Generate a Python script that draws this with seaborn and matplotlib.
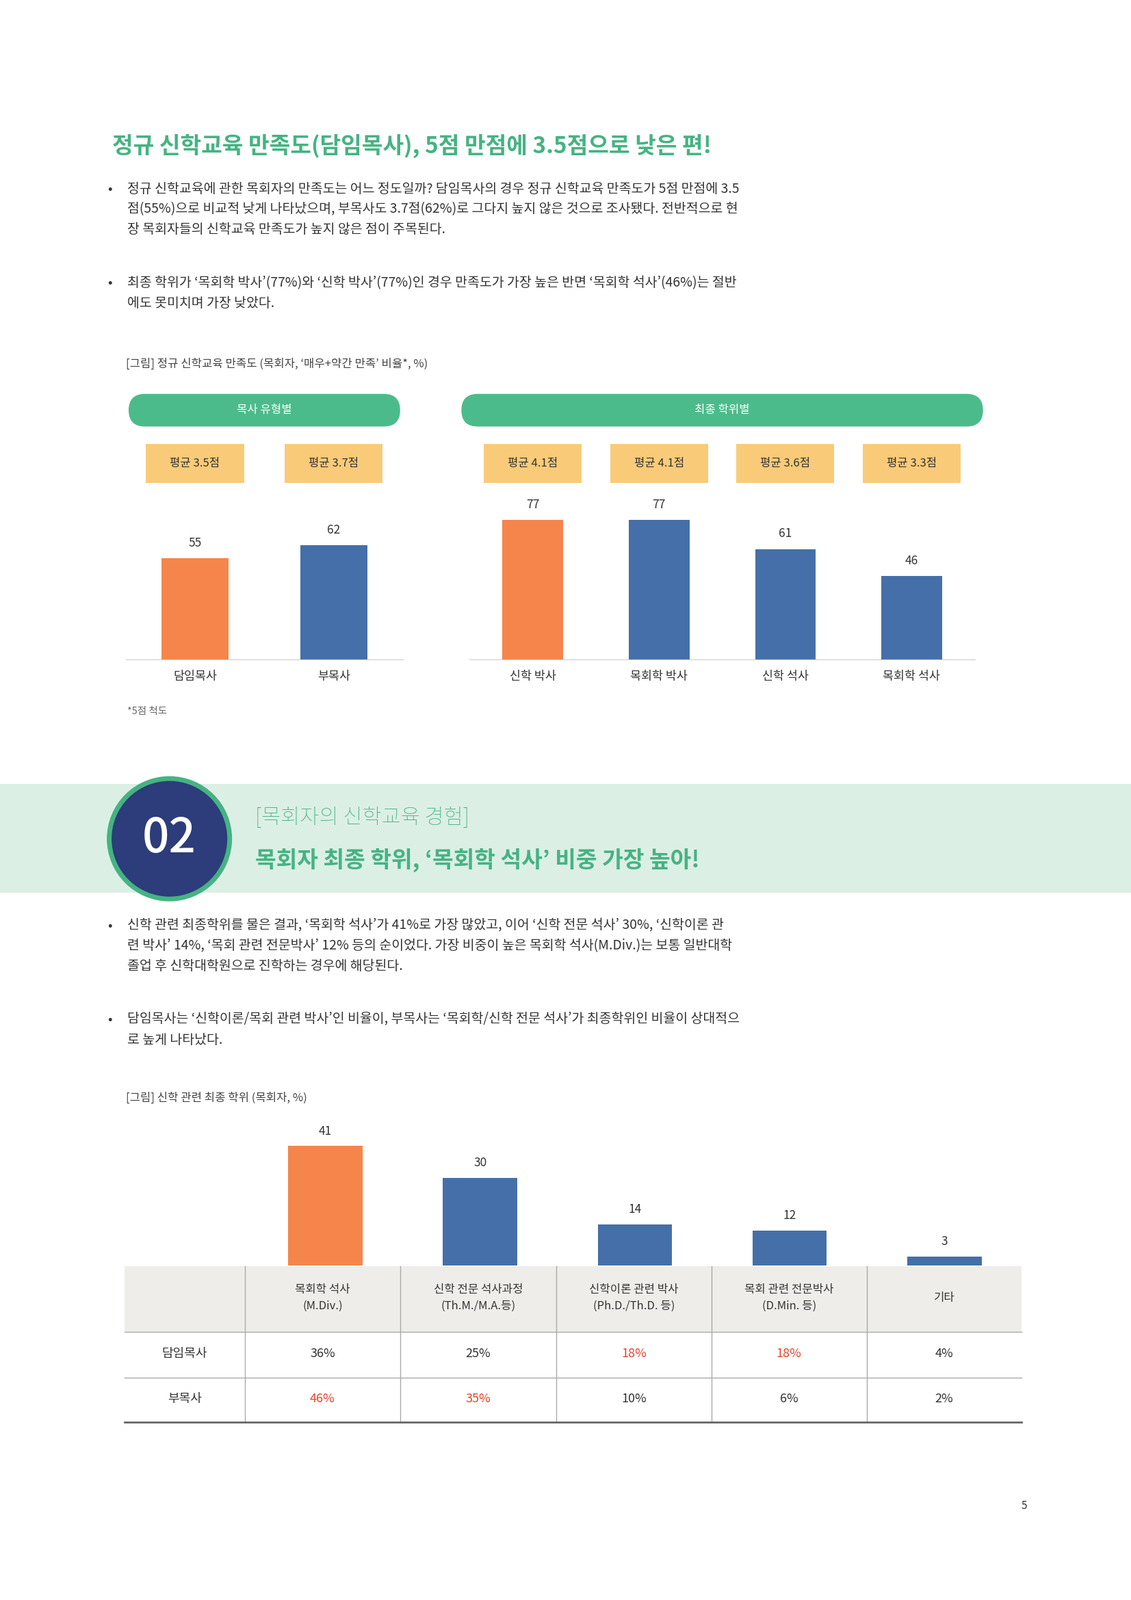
import matplotlib
matplotlib.use("Agg")
import matplotlib.pyplot as plt
import seaborn as sns
import pandas as pd
from matplotlib.patches import FancyBboxPatch, Rectangle, Ellipse

plt.rcParams["font.family"] = ["Noto Sans CJK KR", "Noto Sans CJK JP", "Noto Sans CJK SC", "DejaVu Sans"]

# ---- data ----
type_cats = ["담임목사", "부목사"]
type_vals = [55, 62]
type_avg = ["평균 3.5점", "평균 3.7점"]
deg_cats = ["신학 박사", "목회학 박사", "신학 석사", "목회학 석사"]
deg_vals = [77, 77, 61, 46]
deg_avg = ["평균 4.1점", "평균 4.1점", "평균 3.6점", "평균 3.3점"]
final_cats = ["목회학 석사\n(M.Div.)", "신학 전문 석사과정\n(Th.M./M.A.등)", "신학이론 관련 박사\n(Ph.D./Th.D. 등)",
              "목회 관련 전문박사\n(D.Min. 등)", "기타"]
final_vals = [41, 30, 14, 12, 3]
row_labels = ["담임목사", "부목사"]
senior_vals = ["36%", "25%", "18%", "18%", "4%"]
assoc_vals = ["46%", "35%", "10%", "6%", "2%"]

ORANGE, BLUE, GREEN, YELLOW, TGREEN = "#f5854a", "#456fa9", "#4cbb8b", "#f9cb78", "#45b383"
W, H = 1108, 1568
fig = plt.figure(figsize=(16.53, 23.39), dpi=100)

def fx(x): return x / W
def fy(y): return 1 - y / H
def txt(x, y, s, **kw):
    kw.setdefault("va", "center")
    fig.text(fx(x), fy(y), s, **kw)
def ax_at(x0, y0, x1, y1):
    return fig.add_axes([fx(x0), fy(y1), fx(x1) - fx(x0), fy(y0) - fy(y1)])

txt(110, 143, "정규 신학교육 만족도(담임목사), 5점 만점에 3.5점으로 낮은 편!", fontsize=24, fontweight="bold", color=TGREEN)
body = dict(fontsize=14, color="#333333", linespacing=1.55, va="top")
txt(105, 178, "•", **body)
txt(125, 178, "정규 신학교육에 관한 목회자의 만족도는 어느 정도일까? 담임목사의 경우 정규 신학교육 만족도가 5점 만점에 3.5\n"
    "점(55%)으로 비교적 낮게 나타났으며, 부목사도 3.7점(62%)로 그다지 높지 않은 것으로 조사됐다. 전반적으로 현\n"
    "장 목회자들의 신학교육 만족도가 높지 않은 점이 주목된다.", **body)
txt(105, 270, "•", **body)
txt(125, 270, "최종 학위가 ‘목회학 박사’(77%)와 ‘신학 박사’(77%)인 경우 만족도가 가장 높은 반면 ‘목회학 석사’(46%)는 절반\n"
    "에도 못미치며 가장 낮았다.", **body)
txt(123, 357, "[그림] 정규 신학교육 만족도 (목회자, ‘매우+약간 만족’ 비율*, %)", fontsize=12, color="#444444")

for (x0, x1, lab) in [(126, 392, "목사 유형별"), (452, 963, "최종 학위별")]:
    fig.patches.append(FancyBboxPatch((fx(x0), fy(418)), fx(x1 - x0), fy(386) - fy(418),
                       boxstyle="round,pad=0,rounding_size=%f" % (16 / W), transform=fig.transFigure,
                       facecolor=GREEN, edgecolor="none", mutation_aspect=W / H))
    txt((x0 + x1) / 2, 402, lab, fontsize=12, color="white", ha="center")

def bars(ax, cats, vals, colors, scale_top, width):
    df = pd.DataFrame({"c": cats, "v": vals})
    sns.barplot(data=df, x="c", y="v", hue="c", palette=colors, ax=ax, width=width, legend=False, saturation=1)
    ax.set_ylim(0, scale_top)
    ax.set_xlabel(""); ax.set_ylabel(""); ax.set_yticks([])
    for s in ["top", "right", "left"]:
        ax.spines[s].set_visible(False)
    ax.spines["bottom"].set_color("#cccccc")
    ax.tick_params(axis="x", length=0, labelsize=12.5, pad=12, colors="#333333")
    for i, v in enumerate(vals):
        ax.text(i, v + 5, str(v), ha="center", va="bottom", fontsize=12.5, color="#333333")

axL = ax_at(123, 400, 395, 646)
bars(axL, type_cats, type_vals, [ORANGE, BLUE], 246 / 1.8, 0.48)
axR = ax_at(460, 400, 955, 646)
bars(axR, deg_cats, deg_vals, [ORANGE, BLUE, BLUE, BLUE], 246 / 1.77, 0.48)
for ax, avgs in [(axL, type_avg), (axR, deg_avg)]:
    for i, a in enumerate(avgs):
        xd = ax.transData.transform((i, 0))[0]
        xc = xd / fig.bbox.width * W
        fig.patches.append(Rectangle((fx(xc - 48), fy(473)), fx(96), fy(435) - fy(473),
                           transform=fig.transFigure, facecolor=YELLOW, edgecolor="none"))
        txt(xc, 454, a, fontsize=12, color="#333333", ha="center")
txt(125, 697, "*5점 척도", fontsize=10.5, color="#666666")

# section 2 band
fig.patches.append(Rectangle((0, fy(875)), 1, fy(768) - fy(875), transform=fig.transFigure,
                             facecolor="#dcefe4", edgecolor="none"))
fig.patches.append(Ellipse((fx(166), fy(822)), fx(118), 118 / H, transform=fig.transFigure,
                           facecolor="#2d3c7a", edgecolor=TGREEN, linewidth=5))
txt(166, 822, "02", fontsize=50, color="white", ha="center", fontweight="medium")
txt(250, 801, "[목회자의 신학교육 경험]", fontsize=22, color=TGREEN, fontweight="light")
txt(250, 843, "목회자 최종 학위, ‘목회학 석사’ 비중 가장 높아!", fontsize=24, color=TGREEN, fontweight="bold")

txt(105, 900, "•", **body)
txt(125, 900, "신학 관련 최종학위를 물은 결과, ‘목회학 석사’가 41%로 가장 많았고, 이어 ‘신학 전문 석사’ 30%, ‘신학이론 관\n"
    "련 박사’ 14%, ‘목회 관련 전문박사’ 12% 등의 순이었다. 가장 비중이 높은 목회학 석사(M.Div.)는 보통 일반대학\n"
    "졸업 후 신학대학원으로 진학하는 경우에 해당된다.", **body)
txt(105, 992, "•", **body)
txt(125, 992, "담임목사는 ‘신학이론/목회 관련 박사’인 비율이, 부목사는 ‘목회학/신학 전문 석사’가 최종학위인 비율이 상대적으\n"
    "로 높게 나타났다.", **body)
txt(123, 1076, "[그림] 신학 관련 최종 학위 (목회자, %)", fontsize=12, color="#444444")

axB = ax_at(243, 1090, 1001, 1240)
df = pd.DataFrame({"c": final_cats, "v": final_vals})
sns.barplot(data=df, x="c", y="v", hue="c", palette=[ORANGE] + [BLUE] * 4, ax=axB, width=0.48,
            legend=False, saturation=1)
axB.set_ylim(0, 150 / 2.85); axB.axis("off")
for i, v in enumerate(final_vals):
    axB.text(i, v + 3, str(v), ha="center", va="bottom", fontsize=12.5, color="#333333")

# table
fig.patches.append(Rectangle((fx(122), fy(1305)), fx(1001 - 122), fy(1241) - fy(1305),
                             transform=fig.transFigure, facecolor="#efedea", edgecolor="none"))
cols = [122, 240, 392, 545, 697, 849, 1001]
for xv in cols[1:-1]:
    fig.add_artist(plt.Line2D([fx(xv)] * 2, [fy(1241), fy(1394)], color="#aaaaaa", lw=1))
for yv, lw in [(1305, 1), (1350, 1), (1394, 2)]:
    fig.add_artist(plt.Line2D([fx(122), fx(1001)], [fy(yv)] * 2, color="#666666" if lw == 2 else "#aaaaaa", lw=lw))
for j, c in enumerate(final_cats):
    txt((cols[j + 1] + cols[j + 2]) / 2, 1272, c, fontsize=12, color="#333333", ha="center", linespacing=1.5)
for r, (lab, vals, yy) in enumerate([(row_labels[0], senior_vals, 1327), (row_labels[1], assoc_vals, 1371)]):
    txt(181, yy, lab, fontsize=13, color="#333333", ha="center")
    for j, v in enumerate(vals):
        red = (r == 0 and j in (2, 3)) or (r == 1 and j in (0, 1))
        txt((cols[j + 1] + cols[j + 2]) / 2, yy, v, fontsize=13, ha="center",
            color="#e8442e" if red else "#333333")
txt(1003, 1476, "5", fontsize=11, color="#333333", ha="center")

fig.savefig("out.png", dpi=100, facecolor="white")
